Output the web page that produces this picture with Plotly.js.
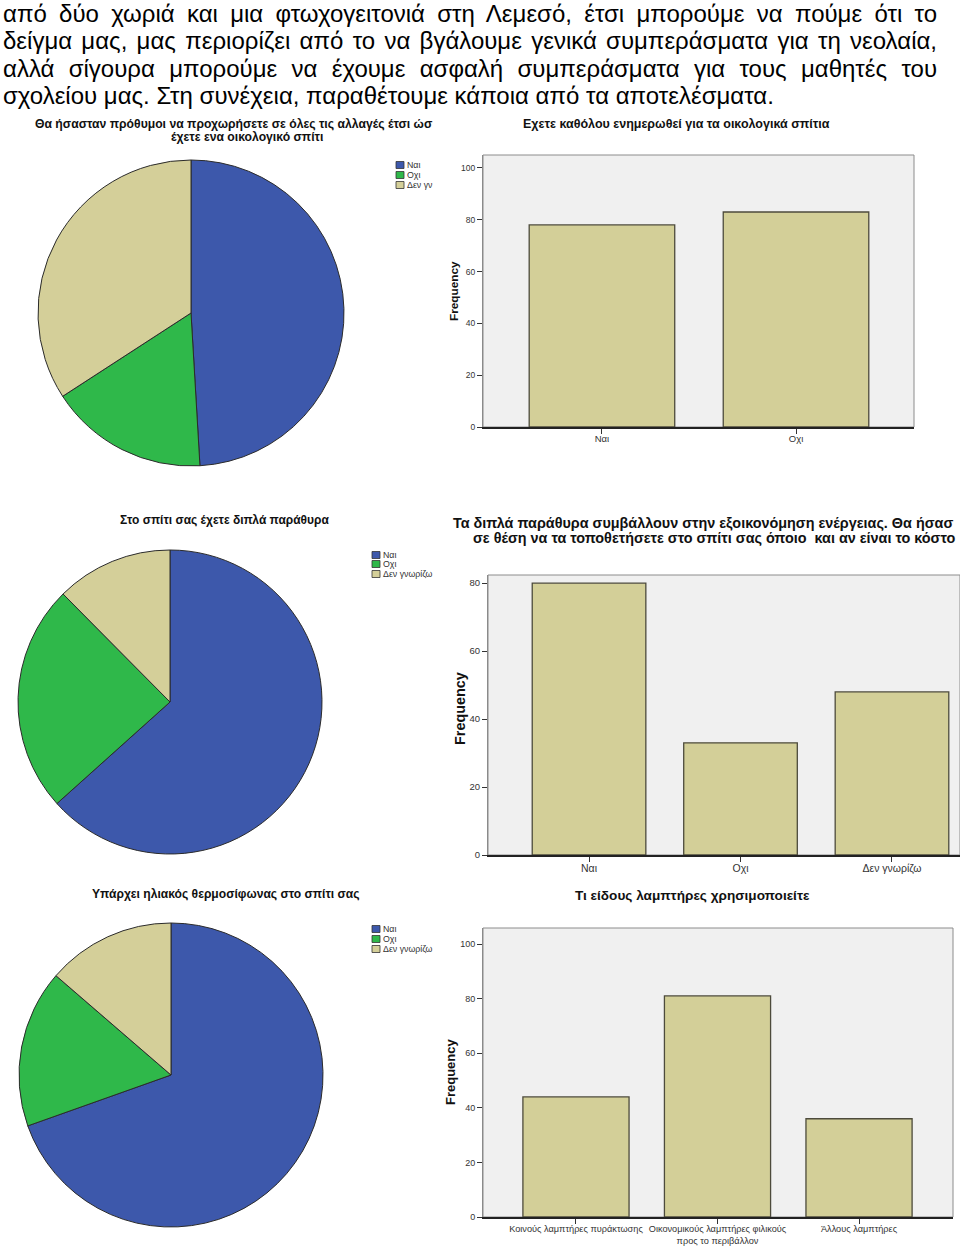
<!DOCTYPE html>
<html>
<head>
<meta charset="utf-8">
<script src="https://cdn.plot.ly/plotly-3.0.1.min.js"></script>
<style>
  html, body { margin: 0; padding: 0; background: #fff; }
  #wrap { position: relative; width: 960px; height: 1248px; overflow: hidden; }
  #chart { position: absolute; left: 0; top: 0; width: 960px; height: 1248px; }
  #para { position: absolute; left: 3px; top: 0px; width: 934px; font-family: "Liberation Sans", Arial, sans-serif; font-size: 24px; line-height: 27.3px; color: #000; z-index: 2; }
  #para .j { text-align: justify; text-align-last: justify; }
  #para .l { white-space: nowrap; }
</style>
</head>
<body>
<div id="wrap">
  <div id="chart"></div>
  <div id="para"></div>
</div>
<script>
// ---- text ----
const paragraphLines = [
  "από δύο χωριά και μια φτωχογειτονιά στη Λεμεσό, έτσι μπορούμε να πούμε ότι το",
  "δείγμα μας, μας περιορίζει από το να βγάλουμε γενικά συμπεράσματα για τη νεολαία,",
  "αλλά σίγουρα μπορούμε να έχουμε ασφαλή συμπεράσματα για τους μαθητές του",
  "σχολείου μας. Στη συνέχεια, παραθέτουμε κάποια από τα αποτελέσματα."
];

// ---- pie data ----
const pieLabels = ["Ναι", "Οχι", "Δεν γνωρίζω"];
const pie1LegendLabels = ["Ναι", "Οχι", "Δεν γν"];
const pieColors = ["#3d58ab", "#2fb84a", "#d4cf99"];
const pie1Values = [79, 27, 55];
const pie2Values = [102, 39, 20];
const pie3Values = [112, 27, 22];
const pie1TitleLines = ["Θα ήσασταν πρόθυμοι να προχωρήσετε σε όλες τις αλλαγές έτσι ώσ", "έχετε ενα οικολογικό σπίτι"];
const pie2Title = "Στο σπίτι σας έχετε διπλά παράθυρα";
const pie3Title = "Υπάρχει ηλιακός θερμοσίφωνας στο σπίτι σας";

// ---- bar data ----
const bar1Cats = ["Ναι", "Οχι"];
const bar1Values = [78, 83];
const bar1Ticks = [0, 20, 40, 60, 80, 100];
const bar1Title = "Εχετε καθόλου ενημερωθεί για τα οικολογικά σπίτια";

const bar2Cats = ["Ναι", "Οχι", "Δεν γνωρίζω"];
const bar2Values = [80, 33, 48];
const bar2Ticks = [0, 20, 40, 60, 80];
const bar2TitleLines = ["Τα διπλά παράθυρα συμβάλλουν στην εξοικονόμηση ενέργειας. Θα ήσασ", "σε θέση να τα τοποθετήσετε στο σπίτι σας όποιο  και αν είναι το κόστο"];

const bar3Cats = ["Κοινούς λαμπτήρες πυράκτωσης", "Οικονομικούς λαμπτήρες φιλικούς<br>προς το περιβάλλον", "Άλλους λαμπτήρες"];
const bar3Values = [44, 81, 36];
const bar3Ticks = [0, 20, 40, 60, 80, 100];
const bar3Title = "Τι είδους λαμπτήρες χρησιμοποιείτε";

const yTitle = "Frequency";

// ---- paragraph ----
const para = document.getElementById("para");
paragraphLines.forEach((t, i) => {
  const d = document.createElement("div");
  d.className = (i < paragraphLines.length - 1) ? "j" : "l";
  d.textContent = t;
  para.appendChild(d);
});

// ---- helpers (pixel -> paper) ----
const W = 960, H = 1248;
const X = p => p / W;
const Y = p => 1 - p / H;
const FONT = "Liberation Sans, Arial, sans-serif";
const barColor = "#d3cf98";
const barLine = "#4d4b3c";

function pie(values, x0, x1, y0, y1, name) {
  return {
    type: "pie", name: name, values: values, labels: pieLabels, sort: false,
    direction: "clockwise", rotation: 0, textinfo: "none", showlegend: false,
    marker: { colors: pieColors, line: { color: "#2b2b2b", width: 1 } },
    domain: { x: [X(x0), X(x1)], y: [Y(y1), Y(y0)] }
  };
}

function bar(cats, vals, xa, ya) {
  return {
    type: "bar", x: cats, y: vals, xaxis: xa, yaxis: ya, width: 0.75,
    marker: { color: barColor, line: { color: barLine, width: 1.3 } },
    showlegend: false
  };
}

const data = [
  pie(pie1Values, 38, 344, 160, 466, "pie1"),
  pie(pie2Values, 18, 322, 550, 854, "pie2"),
  pie(pie3Values, 19, 323, 923, 1227, "pie3"),
  bar(bar1Cats, bar1Values, "x", "y"),
  bar(bar2Cats, bar2Values, "x2", "y2"),
  bar(bar3Cats, bar3Values, "x3", "y3")
];

function xAxis(left, right, range, anchor, fs) {
  return {
    domain: [X(left), X(right)], anchor: anchor, type: "category", range: range,
    ticks: "outside", ticklen: 5, tickcolor: "#333", tickwidth: 1, tickangle: 0,
    ticklabelstandoff: -3,
    showline: true, linecolor: "#222", linewidth: 2, showgrid: false, zeroline: false,
    tickfont: { family: FONT, size: fs, color: "#333" }, fixedrange: true
  };
}
function yAxis(bottom, top, range, ticks, anchor, fs) {
  return {
    domain: [Y(bottom), Y(top)], anchor: anchor, range: range, tickvals: ticks,
    ticks: "outside", ticklen: 5, tickcolor: "#333", tickwidth: 1,
    showline: true, linecolor: "#8a8a8a", linewidth: 1, showgrid: false, zeroline: false,
    tickfont: { family: FONT, size: fs, color: "#333" }, fixedrange: true
  };
}

const annotations = [];
function addText(text, px, py, size, opts) {
  annotations.push(Object.assign({
    text: text, x: X(px), y: Y(py), xref: "paper", yref: "paper",
    showarrow: false, xanchor: "center", yanchor: "middle",
    font: { family: FONT, size: size, color: "#111" }
  }, opts || {}));
}

// titles
addText("<b>" + pie1TitleLines[0] + "</b>", 234, 124, 12.2);
addText("<b>" + pie1TitleLines[1] + "</b>", 247, 137, 12.2);
addText("<b>" + bar1Title + "</b>", 676, 124, 12.5);
addText("<b>" + pie2Title + "</b>", 225, 520, 12);
addText("<b>" + bar2TitleLines[0] + "</b>", 451, 523, 14.4, { xanchor: "left" });
addText("<b>" + bar2TitleLines[1] + "</b>", 471, 538, 14.4, { xanchor: "left" });
addText("<b>" + pie3Title + "</b>", 226, 894, 12.1);
addText("<b>" + bar3Title + "</b>", 692, 895, 13.6);

// y titles
addText("<b>" + yTitle + "</b>", 454, 291, 11.8, { textangle: -90 });
addText("<b>" + yTitle + "</b>", 460, 709, 14.4, { textangle: -90 });
addText("<b>" + yTitle + "</b>", 450, 1072, 13, { textangle: -90 });

// manual legends
const shapes = [];
function legend(labels, sx, rows, tx) {
  labels.forEach((lab, i) => {
    shapes.push({
      type: "rect", xref: "paper", yref: "paper",
      x0: X(sx), x1: X(sx + 8), y0: Y(rows[i] + 3.5), y1: Y(rows[i] - 3.5),
      fillcolor: pieColors[i], line: { color: "#333", width: 0.8 }
    });
    addText(lab, tx, rows[i], 8.8, { xanchor: "left", font: { family: FONT, size: 8.8, color: "#333" } });
  });
}
legend(pie1LegendLabels, 396, [165, 175, 185], 405);
legend(pieLabels, 372, [555, 564, 574], 381);
legend(pieLabels, 372, [929, 939, 949], 381);

// plot frames
["", "2", "3"].forEach(s => {
  shapes.push({
    type: "rect", xref: "x" + s + " domain", yref: "y" + s + " domain",
    x0: 0, x1: 1, y0: 0, y1: 1, layer: "below",
    line: { color: "#8c8c8c", width: 1 }, fillcolor: "rgba(0,0,0,0)"
  });
});

const layout = {
  width: W, height: H,
  margin: { l: 0, r: 0, t: 0, b: 0, pad: 0 },
  paper_bgcolor: "rgba(0,0,0,0)", plot_bgcolor: "#f0f0f0",
  showlegend: false, bargap: 0.25,
  font: { family: FONT, color: "#222" },
  xaxis: xAxis(483, 914, [-0.613, 1.608], "y", 9.5),
  yaxis: yAxis(427, 155, [0, 105], bar1Ticks, "x", 8.5),
  xaxis2: xAxis(488, 960, [-0.667, 2.449], "y2", 10.5),
  yaxis2: yAxis(855, 575, [0, 82.4], bar2Ticks, "x2", 9.5),
  xaxis3: xAxis(483, 953, [-0.657, 2.664], "y3", 9.2),
  yaxis3: yAxis(1217, 928, [0, 105.9], bar3Ticks, "x3", 9),
  annotations: annotations,
  shapes: shapes
};

Plotly.newPlot("chart", data, layout, { staticPlot: true, displayModeBar: false });
</script>
</body>
</html>
